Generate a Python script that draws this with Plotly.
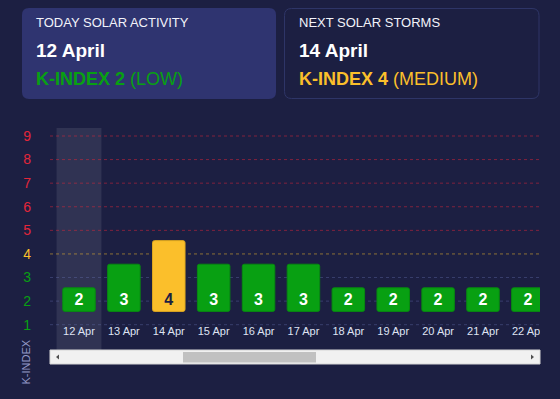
import plotly.graph_objects as go

# ---------------- data ----------------
categories = ["12 Apr", "13 Apr", "14 Apr", "15 Apr", "16 Apr", "17 Apr",
              "18 Apr", "19 Apr", "20 Apr", "21 Apr", "22 Apr"]
k_index = [2, 3, 4, 3, 3, 3, 2, 2, 2, 2, 2]
k_levels = [1, 2, 3, 4, 5, 6, 7, 8, 9]

today_label = "12 Apr"
today_title = "TODAY SOLAR ACTIVITY"
today_date = "12 April"
today_k = 2
today_level = "LOW"

next_title = "NEXT SOLAR STORMS"
next_date = "14 April"
next_k = 4
next_level = "MEDIUM"

axis_title = "K-INDEX"

# ---------------- styles ----------------
BG = "#1c1f42"
CARD = "#2f3470"
GREEN = "#08a012"
YELLOW = "#fbbf2b"
RED = "#e3263a"
FONT = "Liberation Sans, Arial, sans-serif"

W, H = 560, 399
L, R, T, B = 50, 20, 128, 49


def k_color(k):
    if k <= 3:
        return GREEN
    if k == 4:
        return YELLOW
    return RED


def grid_color(k):
    if k <= 3:
        return "rgba(110,120,190,0.35)"
    if k == 4:
        return "rgba(251,191,43,0.5)"
    return "rgba(227,38,58,0.5)"


def X(px):
    return (px - L) / (W - L - R)


def Y(py):
    return (H - B - py) / (H - T - B)


def rounded_rect(x0, y0, x1, y1, r):
    return (f"M {X(x0 + r)},{Y(y0)} L {X(x1 - r)},{Y(y0)} Q {X(x1)},{Y(y0)} {X(x1)},{Y(y0 + r)} "
            f"L {X(x1)},{Y(y1 - r)} Q {X(x1)},{Y(y1)} {X(x1 - r)},{Y(y1)} "
            f"L {X(x0 + r)},{Y(y1)} Q {X(x0)},{Y(y1)} {X(x0)},{Y(y1 - r)} "
            f"L {X(x0)},{Y(y0 + r)} Q {X(x0)},{Y(y0)} {X(x0 + r)},{Y(y0)} Z")


bar_colors = [k_color(k) for k in k_index]
bar_lines = ["#078a10" if k <= 3 else "#e0a820" for k in k_index]
text_colors = ["#ffffff" if k <= 3 else BG for k in k_index]

fig = go.Figure()
fig.add_trace(go.Bar(
    x=categories, y=[k - 1 for k in k_index], base=1,
    yaxis="y2",
    marker=dict(color=bar_colors, line=dict(color=bar_lines, width=1), cornerradius=2),
    text=[str(k) for k in k_index],
    textposition="inside", insidetextanchor="start", constraintext="none",
    textfont=dict(size=16, color=text_colors, family=FONT, weight="bold"),
    hoverinfo="skip", showlegend=False,
))

shapes = []
ti = categories.index(today_label)
shapes.append(dict(type="rect", xref="x", yref="paper", x0=ti - 0.5, x1=ti + 0.5,
                   y0=0, y1=1, fillcolor="rgba(255,255,255,0.09)", line=dict(width=0),
                   layer="below"))
for k in k_levels:
    shapes.append(dict(type="line", xref="paper", yref="y", x0=0, x1=1, y0=k, y1=k,
                       line=dict(color=grid_color(k), width=1, dash="3px,3px"),
                       layer="below"))

# cards
shapes.append(dict(type="path", xref="paper", yref="paper",
                   path=rounded_rect(22, 8, 276, 99, 7), fillcolor=CARD,
                   line=dict(width=0), layer="below"))
shapes.append(dict(type="path", xref="paper", yref="paper",
                   path=rounded_rect(284.5, 8.5, 539, 98.5, 7), fillcolor="rgba(0,0,0,0)",
                   line=dict(width=1, color="#2e3567"), layer="below"))

# scrollbar
shapes.append(dict(type="rect", xref="paper", yref="paper", x0=X(50), x1=X(540),
                   y0=Y(350), y1=Y(364), fillcolor="#f1f1f1",
                   line=dict(width=1, color="#d6d6d6"), layer="above"))
shapes.append(dict(type="rect", xref="paper", yref="paper", x0=X(183), x1=X(316),
                   y0=Y(352), y1=Y(362.5), fillcolor="#c1c1c1", line=dict(width=0),
                   layer="above"))
shapes.append(dict(type="path", xref="paper", yref="paper",
                   path=f"M {X(56)},{Y(357)} L {X(59)},{Y(354.5)} L {X(59)},{Y(359.5)} Z",
                   fillcolor="#505050", line=dict(width=0), layer="above"))
shapes.append(dict(type="path", xref="paper", yref="paper",
                   path=f"M {X(534)},{Y(357)} L {X(531)},{Y(354.5)} L {X(531)},{Y(359.5)} Z",
                   fillcolor="#505050", line=dict(width=0), layer="above"))
# hide overflow of last tick label beyond plot area
shapes.append(dict(type="rect", xref="paper", yref="paper", x0=X(540), x1=X(560),
                   y0=Y(318), y1=Y(345), fillcolor=BG, line=dict(width=0), layer="above"))

annotations = []


def card_text(x, title, date, k, level):
    c = k_color(k)
    annotations.extend([
        dict(x=X(x), y=Y(22.8), text=title, font=dict(size=13, color="#f2f3fa", family=FONT)),
        dict(x=X(x), y=Y(50.3), text=f"<b>{date}</b>", font=dict(size=19, color="#ffffff", family=FONT)),
        dict(x=X(x), y=Y(79.2), text=f"<b>K-INDEX {k}</b> ({level})",
             font=dict(size=18, color=c, family=FONT)),
    ])


card_text(35, today_title, today_date, today_k, today_level)
card_text(297.7, next_title, next_date, next_k, next_level)
for a in annotations:
    a.update(xref="paper", yref="paper", xanchor="left", yanchor="middle",
             showarrow=False, borderpad=0)
annotations.append(dict(x=X(25), y=Y(362.5), xref="paper", yref="paper", text=axis_title,
                        textangle=-90, showarrow=False, borderpad=0,
                        xanchor="center", yanchor="middle",
                        font=dict(size=11, color="#9399c6", family=FONT)))

tick_text = [f"<span style='color:{k_color(k)}'>{k}</span>" for k in k_levels]

fig.update_layout(
    width=W, height=H,
    margin=dict(l=L, r=R, t=T, b=B, pad=0),
    paper_bgcolor=BG, plot_bgcolor=BG,
    bargap=0.276,
    font=dict(family=FONT),
    shapes=shapes, annotations=annotations,
    xaxis=dict(type="category", range=[-0.646, 10.27], showgrid=False, zeroline=False,
               showline=False, ticks="", anchor="free", position=0.12,
               tickfont=dict(size=11, color="#dfe3f3", family=FONT), fixedrange=True),
    yaxis=dict(range=[-0.0726, 9.339], tickvals=k_levels, ticktext=tick_text,
               showgrid=False, zeroline=False, showline=False, ticks="",
               ticklabelstandoff=18, tickfont=dict(size=14, family=FONT), fixedrange=True),
    yaxis2=dict(range=[-0.637, 8.775], overlaying="y", visible=False, fixedrange=True),
)

fig.write_html("out.html", config={"displayModeBar": False},
               post_script="document.body.style.margin='0';")
